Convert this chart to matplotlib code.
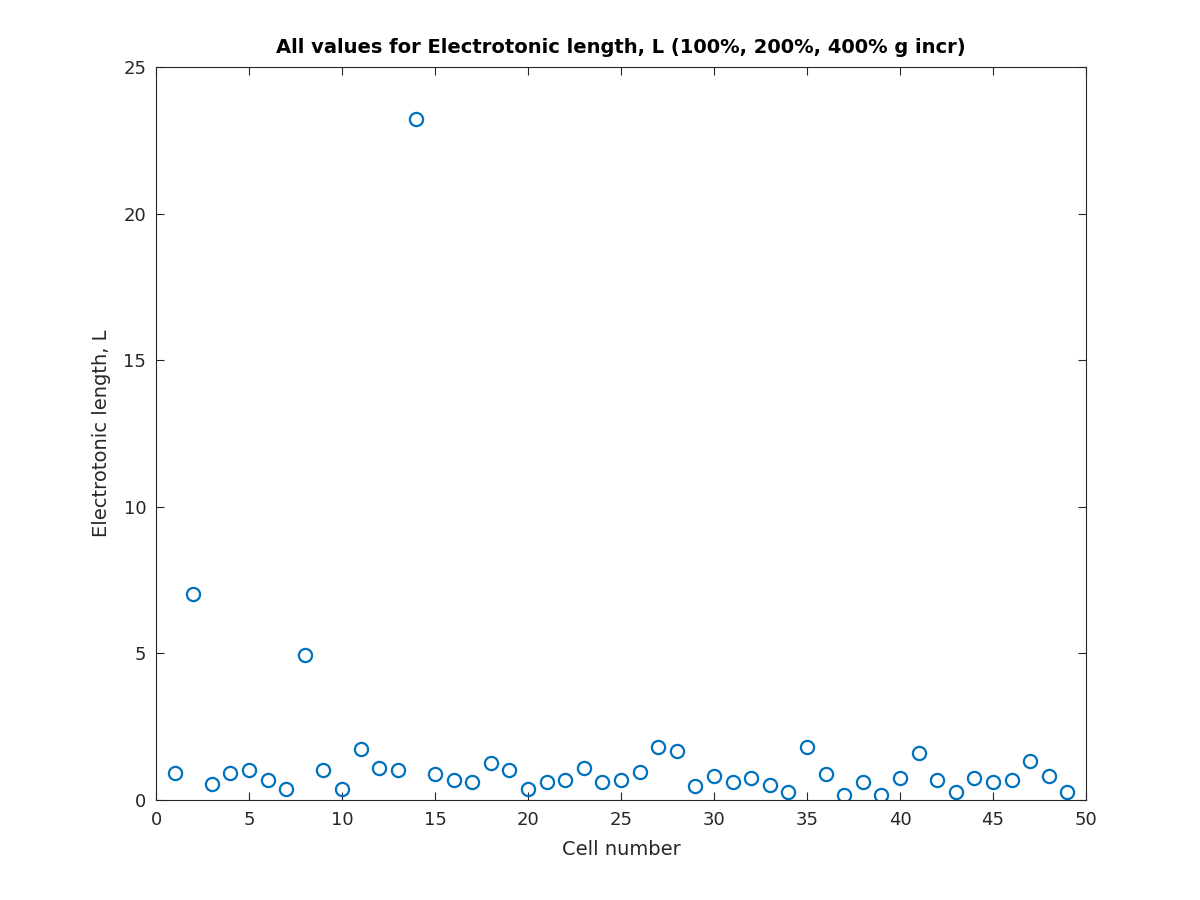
import matplotlib
matplotlib.use("Agg")
import matplotlib.pyplot as plt

cells = list(range(1, 50))
L_values = [0.91, 7.03, 0.55, 0.91, 1.03, 0.68, 0.39, 4.95, 1.03, 0.39,
            1.75, 1.10, 1.04, 23.23, 0.90, 0.68, 0.61, 1.25, 1.03, 0.39,
            0.61, 0.68, 1.10, 0.61, 0.68, 0.97, 1.82, 1.67, 0.48, 0.82,
            0.61, 0.75, 0.53, 0.26, 1.82, 0.90, 0.17, 0.61, 0.17, 0.75,
            1.60, 0.68, 0.26, 0.75, 0.61, 0.68, 1.32, 0.83, 0.26]
x_ticks = [0, 5, 10, 15, 20, 25, 30, 35, 40, 45, 50]
y_ticks = [0, 5, 10, 15, 20, 25]

plt.rcParams['font.family'] = ['DejaVu Sans']
fig = plt.figure(figsize=(12, 9), dpi=100)
ax = fig.add_axes([0.13, 0.111, 0.775, 0.8145])
ax.plot(cells, L_values, linestyle='none', marker='o', markersize=9.5,
        markerfacecolor='none', markeredgecolor='#0072BD', markeredgewidth=1.6)
ax.set_xlim(0, 50)
ax.set_ylim(0, 25)
ax.set_xticks(x_ticks)
ax.set_yticks(y_ticks)
ax.tick_params(direction='in', top=True, right=True, labelsize=13,
               colors='#262626', length=6, width=0.8)
ax.tick_params(axis='x', pad=8)
ax.tick_params(axis='y', pad=7)
for s in ax.spines.values():
    s.set_color('#262626')
    s.set_linewidth(0.8)
ax.set_xlabel('Cell number', fontsize=14, color='#262626', labelpad=8)
ax.set_ylabel('Electrotonic length, L', fontsize=14, color='#262626', labelpad=9)
ax.set_title('All values for Electrotonic length, L (100%, 200%, 400% g incr)',
             fontsize=14, fontweight='bold', color='black', pad=10)
fig.savefig('out.png', dpi=100)
